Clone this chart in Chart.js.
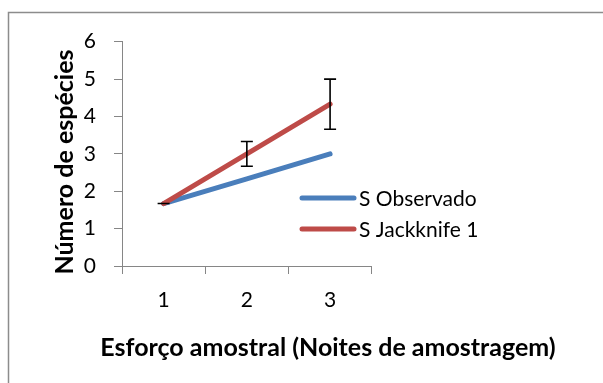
<!DOCTYPE html>
<html>
<head>
<meta charset="utf-8">
<script src="https://cdn.jsdelivr.net/npm/chart.js@4.4.1/dist/chart.umd.min.js"></script>
<style>
html,body{margin:0;padding:0;background:#fff;}
#wrap{width:603px;height:383px;position:relative;}
</style>
</head>
<body>
<div id="wrap"><canvas id="c" width="603" height="383"></canvas></div>
<script>
const categories = ['1', '2', '3'];
const sObservado = [1.67, 2.33, 3.0];
const sJackknife = [1.67, 3.0, 4.33];
const jackknifeErr = [0, 0.33, 0.67];
const yTicks = [0, 1, 2, 3, 4, 5, 6];
const seriesNames = ['S Observado', 'S Jackknife 1'];
const xTitle = 'Esforço amostral (Noites de amostragem)';
const yTitle = 'Número de espécies';

const FONT = 'Lato, "Open Sans", sans-serif';
const AXIS = '#868686';

const framePlugin = {
  id: 'frame',
  beforeDraw(chart) {
    const ctx = chart.ctx;
    ctx.save();
    ctx.fillStyle = '#fff';
    ctx.fillRect(0, 0, chart.width, chart.height);
    ctx.strokeStyle = '#8c8c8c';
    ctx.lineWidth = 1.5;
    ctx.strokeRect(8.5, 12.5, 800, 600);
    ctx.restore();
  }
};

const errorBarPlugin = {
  id: 'errbars',
  afterDatasetsDraw(chart) {
    const ctx = chart.ctx;
    const x = chart.scales.x, y = chart.scales.y;
    ctx.save();
    ctx.strokeStyle = '#000';
    ctx.lineWidth = 1.6;
    sJackknife.forEach((v, i) => {
      const px = x.getPixelForValue(i);
      const top = y.getPixelForValue(v + jackknifeErr[i]);
      const bot = y.getPixelForValue(v - jackknifeErr[i]);
      ctx.beginPath();
      ctx.moveTo(px, top); ctx.lineTo(px, bot);
      ctx.moveTo(px - 6, top); ctx.lineTo(px + 6, top);
      ctx.moveTo(px - 6, bot); ctx.lineTo(px + 6, bot);
      ctx.stroke();
    });
    ctx.restore();
  }
};

const textPlugin = {
  id: 'texts',
  afterDraw(chart) {
    const ctx = chart.ctx;
    ctx.save();
    // legend
    chart.data.datasets.forEach((ds, i) => {
      const ly = 198 + i * 31;
      ctx.strokeStyle = ds.borderColor;
      ctx.lineWidth = 5;
      ctx.lineCap = 'round';
      ctx.beginPath();
      ctx.moveTo(302, ly); ctx.lineTo(354, ly);
      ctx.stroke();
      ctx.fillStyle = '#000';
      ctx.font = '21px ' + FONT;
      ctx.textAlign = 'left';
      ctx.textBaseline = 'middle';
      ctx.fillText(ds.label, 359, ly + 1);
    });
    // axis titles
    ctx.fillStyle = '#000';
    ctx.font = 'bold 25px ' + FONT;
    ctx.textAlign = 'center';
    ctx.textBaseline = 'alphabetic';
    ctx.fillText(xTitle, 328, 356);
    ctx.translate(73, 162);
    ctx.rotate(-Math.PI / 2);
    ctx.fillText(yTitle, 0, 0);
    ctx.restore();
  }
};

new Chart(document.getElementById('c'), {
  type: 'line',
  data: {
    labels: categories,
    datasets: [
      { label: seriesNames[0], data: sObservado, borderColor: '#4A7EBB', borderWidth: 5,
        borderCapStyle: 'round', pointRadius: 0, tension: 0, order: 2 },
      { label: seriesNames[1], data: sJackknife, borderColor: '#BE4B48', borderWidth: 5,
        borderCapStyle: 'round', pointRadius: 0, tension: 0, order: 1 }
    ]
  },
  options: {
    responsive: false,
    animation: false,
    events: [],
    layout: { padding: { left: 0, top: 41.7, right: 231.3, bottom: 0 } },
    plugins: { legend: { display: false }, tooltip: { enabled: false } },
    scales: {
      x: {
        offset: true,
        grid: { offset: true, drawOnChartArea: false, drawTicks: true, tickLength: 8, color: AXIS, lineWidth: 1 },
        border: { color: AXIS, width: 1 },
        ticks: { color: '#000', font: { family: FONT, size: 21 }, padding: 14 },
        afterFit(s) { s.height = 117; }
      },
      y: {
        min: 0, max: 6,
        afterBuildTicks(s) { s.ticks = yTicks.map(v => ({ value: v })); },
        grid: { drawOnChartArea: false, drawTicks: true, tickLength: 8, color: AXIS, lineWidth: 1 },
        border: { color: AXIS, width: 1 },
        ticks: { color: '#000', font: { family: FONT, size: 21 }, padding: 18 },
        afterFit(s) { s.width = 122; }
      }
    }
  },
  plugins: [framePlugin, errorBarPlugin, textPlugin]
});
</script>
</body>
</html>
